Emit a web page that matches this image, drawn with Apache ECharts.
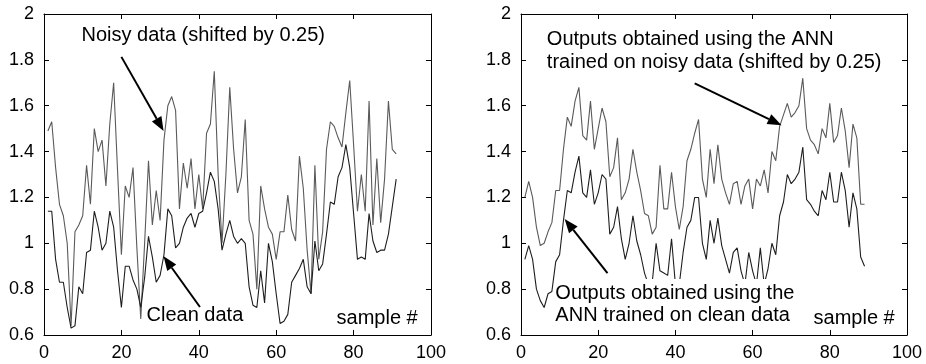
<!DOCTYPE html>
<html>
<head>
<meta charset="utf-8">
<script src="https://cdn.jsdelivr.net/npm/echarts@6/dist/echarts.min.js"></script>
<style>
  html, body { margin: 0; padding: 0; background: #fff; }
  #main { width: 926px; height: 364px; }
</style>
</head>
<body>
<div id="main"></div>
<script>
// axis ticks
const xTicks = [0, 20, 40, 60, 80, 100]
const yTicks = [0.6, 0.8, 1, 1.2, 1.4, 1.6, 1.8, 2]

// left panel: noisy data (shifted by 0.25) and clean data, sample # 1..91
const noisyShifted = [
  1.49, 1.53, 1.33, 1.17, 1.12, 1.0, 0.64, 1.05, 1.08, 1.12,
  1.34, 1.17, 1.5, 1.4, 1.45, 1.25, 1.52, 1.7, 1.32, 0.95,
  1.25, 1.2, 1.33, 0.98, 0.67, 1.0, 1.36, 1.08, 1.23, 1.1,
  1.45, 1.6, 1.64, 1.58, 1.15, 1.35, 1.24, 1.37, 1.15, 1.3,
  1.15, 1.48, 1.52, 1.75, 1.3, 1.0, 1.3, 1.68, 1.41, 1.22,
  1.29, 1.54, 1.1, 1.04, 0.8, 1.25, 1.15, 1.07, 1.04, 0.93,
  1.05, 1.05, 1.21, 1.06, 1.01, 1.38, 1.24, 0.97, 0.78, 1.34,
  0.93, 1.05, 1.41, 1.53, 1.51, 1.46, 1.42, 1.57, 1.71, 1.43,
  1.14, 1.3, 1.14, 1.62, 1.08, 1.37, 1.09, 1.28, 1.62, 1.41,
  1.39
]
const cleanData = [
  1.14, 1.14, 0.93, 0.83, 0.83, 0.72, 0.63, 0.64, 0.81, 0.78,
  0.96, 0.97, 1.14, 1.07, 0.97, 1.0, 1.14, 1.07, 0.88, 0.72,
  0.9, 0.9, 0.84, 0.8, 0.72, 0.85, 1.03, 0.94, 0.83, 0.86,
  0.95, 1.15, 1.12, 0.98, 1.0, 1.07, 1.11, 1.13, 1.07, 1.13,
  1.14, 1.22, 1.31, 1.27, 1.15, 0.97, 1.04, 1.1, 1.03, 1.0,
  1.02, 1.0, 0.81, 0.73, 0.72, 0.88, 0.74, 1.0, 0.92, 0.78,
  0.65, 0.66, 0.69, 0.83, 0.86, 0.89, 0.93, 0.81, 0.78, 1.01,
  0.88, 0.91, 1.04, 1.18, 1.17, 1.29, 1.33, 1.43, 1.33, 1.13,
  0.93, 0.94, 0.93, 1.13, 1.01, 0.96, 0.97, 0.97, 1.04, 1.16,
  1.28
]

// right panel: ANN outputs, sample # 1..89
const annNoisyShifted = [
  1.2, 1.27, 1.2, 1.07, 0.99, 1.0, 1.05, 1.09, 1.23, 1.23,
  1.41, 1.55, 1.51, 1.62, 1.68, 1.47, 1.45, 1.62, 1.41, 1.5,
  1.59, 1.53, 1.29, 1.33, 1.46, 1.19, 1.22, 1.28, 1.41, 1.31,
  1.23, 1.13, 1.12, 1.04, 1.07, 1.34, 1.15, 1.15, 1.31, 1.16,
  1.06, 1.16, 1.36, 1.41, 1.48, 1.54, 1.28, 1.2, 1.41, 1.26,
  1.43, 1.28, 1.22, 1.17, 1.26, 1.27, 1.17, 1.25, 1.28, 1.15,
  1.28, 1.25, 1.32, 1.22, 1.4, 1.36, 1.51, 1.56, 1.61, 1.55,
  1.57, 1.6, 1.72, 1.5, 1.45, 1.43, 1.39, 1.5, 1.46, 1.61,
  1.44, 1.47, 1.59, 1.49, 1.33, 1.52, 1.46, 1.17, 1.17
]
const annClean = [
  0.93, 0.99, 0.93, 0.8, 0.75, 0.72, 0.78, 0.79, 0.92, 0.95,
  1.1, 1.23, 1.22, 1.31, 1.38, 1.22, 1.2, 1.32, 1.17, 1.22,
  1.3, 1.28, 1.04, 1.07, 1.16, 1.02, 0.93, 1.0, 1.12, 1.01,
  0.95, 0.87, 0.82, 0.83, 1.0, 0.88, 0.87, 0.86, 1.02, 0.82,
  0.82, 0.96, 1.07, 1.1, 1.2, 1.2, 1.0, 0.93, 1.1, 1.0,
  1.11, 0.99, 0.93, 0.87, 0.96, 0.98, 0.88, 0.82, 0.96, 0.88,
  0.82, 0.98, 0.82, 0.89, 1.0, 0.95, 1.12, 1.18, 1.3, 1.26,
  1.28, 1.31, 1.42, 1.19, 1.17, 1.14, 1.12, 1.23, 1.19, 1.31,
  1.18, 1.18, 1.31, 1.23, 1.07, 1.22, 1.15, 0.94, 0.9
]

const FONT = '"Liberation Sans", Arial, Helvetica, sans-serif'
const toPairs = arr => arr.map((v, i) => [i + 1, v])

// MATLAB-like box: ticks inside on all four sides
const makeAxes = (gridIndex) => {
  const tick = { show: true, inside: true, length: 5, lineStyle: { color: '#000', width: 1 } }
  const line = { show: true, onZero: false, lineStyle: { color: '#000', width: 1 } }
  const label = { fontSize: 18, color: '#000', fontFamily: FONT }
  const xBase = {
    type: 'value', gridIndex,
    min: xTicks[0], max: xTicks[xTicks.length - 1], interval: xTicks[1] - xTicks[0],
    axisLine: line, axisTick: tick, splitLine: { show: false }
  }
  const yBase = {
    type: 'value', gridIndex,
    min: yTicks[0], max: yTicks[yTicks.length - 1], interval: 0.2,
    axisLine: line, axisTick: tick, splitLine: { show: false }
  }
  return {
    x: [
      { ...xBase, position: 'bottom', axisLabel: { ...label, margin: 9 } },
      { ...xBase, position: 'top', axisLabel: { show: false } }
    ],
    y: [
      { ...yBase, position: 'left', axisLabel: { ...label, margin: 10 } },
      { ...yBase, position: 'right', axisLabel: { show: false } }
    ]
  }
}

const leftAxes = makeAxes(0)
const rightAxes = makeAxes(1)

const lineSeries = (data, xi, yi, color) => ({
  type: 'line',
  data: toPairs(data),
  xAxisIndex: xi,
  yAxisIndex: yi,
  symbol: 'none',
  lineStyle: { color, width: 1.1 },
  z: 2
})

const chart = echarts.init(document.getElementById('main'))
chart.setOption({
  animation: false,
  backgroundColor: '#fff',
  grid: [
    { left: 44, top: 14, width: 387, height: 321 },
    { left: 521, top: 14, width: 386, height: 321 }
  ],
  xAxis: [...leftAxes.x, ...rightAxes.x],
  yAxis: [...leftAxes.y, ...rightAxes.y],
  series: [
    lineSeries(noisyShifted, 0, 0, '#5a5a5a'),
    lineSeries(cleanData, 0, 0, '#1e1e1e'),
    lineSeries(annNoisyShifted, 2, 2, '#5a5a5a'),
    lineSeries(annClean, 2, 2, '#1e1e1e')
  ]
})

// annotations, anchored in data coordinates of each panel
const px = (g, p) => chart.convertToPixel({ gridIndex: g }, p)

const label = (g, p, text) => {
  const q = px(g, p)
  return {
    type: 'text', z: 110,
    style: { text, x: q[0], y: q[1], font: '20px ' + FONT, fill: '#000', verticalAlign: 'middle', align: 'left' }
  }
}

const arrow = (g, from, to) => {
  const a = px(g, from)
  const b = px(g, to)
  const dx = b[0] - a[0]
  const dy = b[1] - a[1]
  const len = Math.hypot(dx, dy)
  const ux = dx / len
  const uy = dy / len
  const hl = 14
  const hw = 5.5
  const base = [b[0] - ux * hl, b[1] - uy * hl]
  return [
    { type: 'line', z: 110, shape: { x1: a[0], y1: a[1], x2: base[0], y2: base[1] }, style: { stroke: '#000', lineWidth: 2 } },
    {
      type: 'polygon', z: 110,
      shape: { points: [b, [base[0] - uy * hw, base[1] + ux * hw], [base[0] + uy * hw, base[1] - ux * hw]] },
      style: { fill: '#000' }
    }
  ]
}

// white box behind the lower-right note, it hides the lines under it
const boxAnchor = px(1, [8.9, 0.783])

chart.setOption({
  graphic: [
    label(0, [9.7, 1.906], 'Noisy data (shifted by 0.25)'),
    ...arrow(0, [20.0, 1.813], [30.9, 1.49]),
    label(0, [26.5, 0.684], 'Clean data'),
    ...arrow(0, [40.3, 0.722], [30.9, 0.943]),
    label(0, [75.6, 0.671], 'sample #'),

    label(1, [6.7, 1.891], 'Outputs obtained using the ANN'),
    label(1, [6.7, 1.79], 'trained on noisy data (shifted by 0.25)'),
    ...arrow(1, [45.0, 1.697], [67.5, 1.515]),
    {
      type: 'rect', z: 105,
      shape: { x: boxAnchor[0] - 1, y: boxAnchor[1] - 14, width: 243, height: 48 },
      style: { fill: '#fff' }
    },
    label(1, [8.9, 0.783], 'Outputs obtained using the'),
    label(1, [8.9, 0.685], 'ANN trained on clean data'),
    ...arrow(1, [22.4, 0.87], [11.3, 1.106]),
    label(1, [75.8, 0.671], 'sample #')
  ]
})
</script>
</body>
</html>
